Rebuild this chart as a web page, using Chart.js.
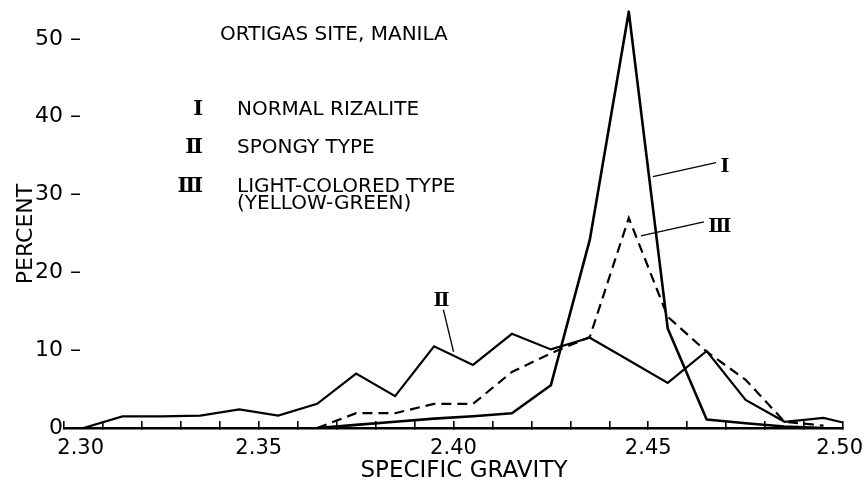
<!DOCTYPE html>
<html>
<head>
<meta charset="utf-8">
<title>Ortigas Site, Manila - specific gravity</title>
<script src="https://cdn.jsdelivr.net/npm/chart.js@4.4.1/dist/chart.umd.min.js"></script>
<style>
  body { margin: 0; background: #fff; }
  #wrap { width: 867px; height: 481px; position: relative; }
</style>
</head>
<body>
<div id="wrap"><canvas id="gravityChart"></canvas></div>
<script>
/* specific gravity (bin midpoints, plus the two ends of the range) */
var gravity = [2.300, 2.305, 2.315, 2.325, 2.335, 2.345, 2.355, 2.365, 2.375, 2.385, 2.395,
               2.405, 2.415, 2.425, 2.435, 2.445, 2.455, 2.465, 2.475, 2.485, 2.495, 2.500];

/* percent of samples */
var normalRizalite = [null, null, null, null, null, null, null, 0, 0.4, 0.8, 1.2,
                      1.5, 1.9, 5.5, 24.2, 53.5, 12.8, 1.1, 0.6, 0.2, 0, null];
var spongyType     = [0, 0, 1.5, 1.5, 1.6, 2.4, 1.6, 3.1, 7.0, 4.1, 10.5,
                      8.1, 12.1, 10.1, 11.6, 8.7, 5.8, 9.9, 3.6, 0.8, 1.3, 0.7];
var lightColored   = [null, null, null, null, null, null, null, 0, 1.9, 1.9, 3.1,
                      3.1, 7.2, 9.6, 11.7, 27.0, 14.3, 9.8, 6.2, 0.8, 0.3, null];

var xTickLabels = ['2.30', '2.35', '2.40', '2.45', '2.50'];
var percentTicks = [0, 10, 20, 30, 40, 50];

function toPoints(values) {
    return gravity.map(function(g, i) { return { x: g, y: values[i] }; });
}

/* Title, key, axis names and the numeral call-outs */
var figureText = {
    id: 'figureText',
    afterDraw: function(chart) {
        var ctx = chart.ctx;
        var xs = chart.scales.x, ys = chart.scales.y;
        ctx.save();
        ctx.fillStyle = '#000';
        ctx.strokeStyle = '#000';
        ctx.textBaseline = 'alphabetic';

        ctx.font = '20px "DejaVu Sans"';
        ctx.textAlign = 'left';
        ctx.fillText('ORTIGAS SITE, MANILA', 220, 40);
        ctx.fillText('NORMAL RIZALITE', 237, 115);
        ctx.fillText('SPONGY TYPE', 237, 153);
        ctx.fillText('LIGHT-COLORED TYPE', 237, 192);
        ctx.fillText('(YELLOW-GREEN)', 237, 209);

        ctx.font = 'bold 21px "DejaVu Serif"';
        ctx.textAlign = 'right';
        ctx.fillText('\u2160', 203, 115);
        ctx.fillText('\u2161', 203, 153);
        ctx.fillText('\u2162', 203, 192);

        /* axis names */
        ctx.font = '23px "DejaVu Sans"';
        ctx.textAlign = 'center';
        ctx.fillText('SPECIFIC GRAVITY', 464, 477);
        ctx.save();
        ctx.translate(32, 234);
        ctx.rotate(-Math.PI / 2);
        ctx.font = '22px "DejaVu Sans"';
        ctx.fillText('PERCENT', 0, 0);
        ctx.restore();

        /* call-outs: [label, label x, label y, leader from x, y, leader to x, y] in data units */
        var callouts = [
            ['\u2160', 2.4697, 32.9, 2.4512, 32.3, 2.4674, 34.1],
            ['\u2162', 2.4684, 25.2, 2.4481, 24.7, 2.4643, 26.5],
            ['\u2161', 2.3969, 15.7, 2.4000, 9.8, 2.3974, 15.2]
        ];
        ctx.lineWidth = 1.3;
        ctx.font = 'bold 19px "DejaVu Serif"';
        ctx.textAlign = 'center';
        callouts.forEach(function(c) {
            ctx.beginPath();
            ctx.moveTo(xs.getPixelForValue(c[3]), ys.getPixelForValue(c[4]));
            ctx.lineTo(xs.getPixelForValue(c[5]), ys.getPixelForValue(c[6]));
            ctx.stroke();
            ctx.fillText(c[0], xs.getPixelForValue(c[1]), ys.getPixelForValue(c[2]));
        });
        ctx.restore();
    }
};

var ctx = document.getElementById('gravityChart').getContext('2d');
new Chart(ctx, {
    type: 'line',
    data: {
        datasets: [{
            label: 'I Normal rizalite',
            data: toPoints(normalRizalite),
            borderColor: '#000',
            borderWidth: 2.6,
            borderJoinStyle: 'round'
        }, {
            label: 'II Spongy type',
            data: toPoints(spongyType),
            borderColor: '#000',
            borderWidth: 2.2
        }, {
            label: 'III Light-colored type (yellow-green)',
            data: toPoints(lightColored),
            borderColor: '#000',
            borderWidth: 2.2,
            borderDash: [10, 6]
        }]
    },
    options: {
        responsive: true,
        maintainAspectRatio: false,
        animation: false,
        layout: { padding: { left: 0, right: 24, top: 0, bottom: 0 } },
        elements: {
            point: { radius: 0 },
            line: { tension: 0, fill: false }
        },
        plugins: {
            legend: { display: false },
            tooltip: { enabled: false }
        },
        scales: {
            x: {
                type: 'linear',
                min: 2.30,
                max: 2.50,
                afterFit: function(scale) {
                    scale.height = 53;
                    scale.paddingLeft = 0;
                    scale.paddingRight = 0;
                },
                border: { display: true, color: '#000', width: 2.6 },
                grid: {
                    drawOnChartArea: false,
                    drawTicks: true,
                    tickLength: -7,
                    color: '#000',
                    lineWidth: 1.6
                },
                ticks: {
                    stepSize: 0.01,
                    autoSkip: false,
                    maxRotation: 0,
                    padding: 15,
                    color: '#000',
                    font: { family: 'DejaVu Sans', size: 21 },
                    callback: function(value) {
                        var hundredths = Math.round(value * 100);
                        if (hundredths % 5 !== 0) return '';
                        var label = xTickLabels[(hundredths - 230) / 5];
                        if (hundredths === 230) return '\u2007\u2007\u00a0' + label;
                        if (hundredths === 250) return label + '\u00a0';
                        return label;
                    }
                }
            },
            y: {
                min: 0,
                max: 55,
                afterFit: function(scale) {
                    scale.width = 64;
                    scale.paddingTop = 0;
                    scale.paddingBottom = 0;
                },
                afterBuildTicks: function(scale) {
                    scale.ticks = percentTicks.map(function(v) { return { value: v }; });
                },
                border: { display: false },
                grid: { display: false, drawTicks: false },
                ticks: {
                    mirror: true,
                    padding: -29,
                    color: '#000',
                    font: { family: 'DejaVu Sans', size: 22 },
                    callback: function(value) {
                        return value === 0 ? '\u20070' : value + ' \u2013';
                    }
                }
            }
        }
    },
    plugins: [figureText]
});
</script>
</body>
</html>
